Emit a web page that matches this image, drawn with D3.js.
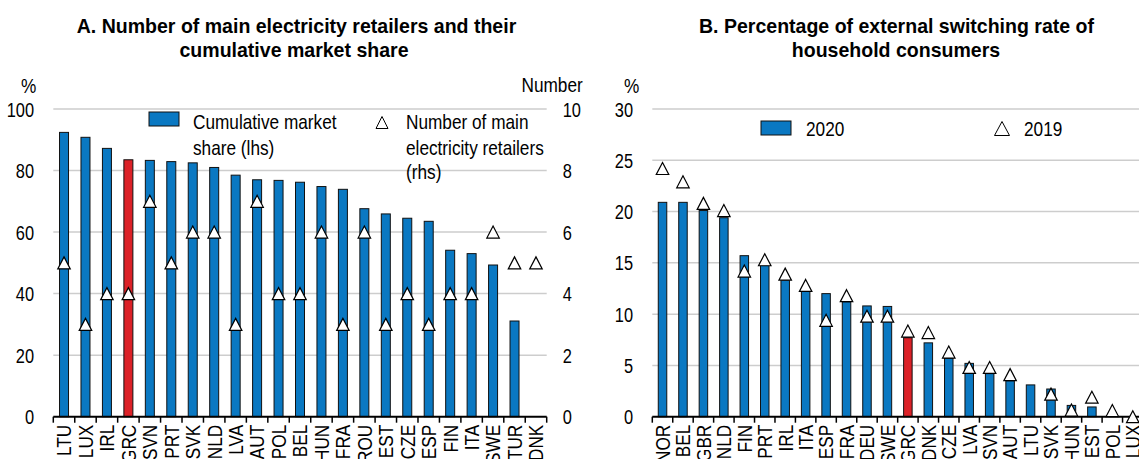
<!DOCTYPE html>
<html>
<head>
<meta charset="utf-8">
<script src="https://cdn.jsdelivr.net/npm/d3@7"></script>
<style>
  html, body { margin: 0; padding: 0; background: #fff; overflow: hidden; }
  svg text { font-family: "Liberation Sans", Arial, sans-serif; fill: #000; }
</style>
</head>
<body>
<svg id="chart" width="1139" height="459"></svg>
<script>
// ---------- Data ----------
const catsA = ["LTU","LUX","IRL","GRC","SVN","PRT","SVK","NLD","LVA","AUT","POL","BEL","HUN","FRA","ROU","EST","CZE","ESP","FIN","ITA","SWE","TUR","DNK"];
const shareA = [92.4, 90.8, 87.2, 83.5, 83.3, 82.9, 82.5, 81.0, 78.5, 77.0, 76.8, 76.2, 74.8, 73.9, 67.6, 65.9, 64.5, 63.5, 54.1, 53.0, 49.3, 31.1, null];
const retailersA = [5, 3, 4, 4, 7, 5, 6, 6, 3, 7, 4, 4, 6, 3, 6, 3, 4, 3, 4, 4, 6, 5, 5];
const ticksAL = [0, 20, 40, 60, 80, 100];
const ticksAR = [0, 2, 4, 6, 8, 10];

const catsB = ["NOR","BEL","GBR","NLD","FIN","PRT","IRL","ITA","ESP","FRA","DEU","SWE","GRC","DNK","CZE","LVA","SVN","AUT","LTU","SVK","HUN","EST","POL","LUX"];
const rate2020 = [20.9, 20.9, 20.1, 19.4, 15.7, 14.8, 13.3, 12.4, 12.0, 11.2, 10.8, 10.75, 7.7, 7.2, 5.7, 5.2, 4.2, 3.5, 3.1, 2.7, 1.1, 0.95, null, null];
const rate2019 = [24.2, 22.9, 20.8, 20.1, 14.2, 15.3, 13.9, 12.8, 9.4, 11.8, 9.8, 9.8, 8.35, 8.2, 6.3, 4.8, 4.8, 4.1, null, 2.2, 0.65, 1.9, 0.6, 0.0];
const ticksB = [0, 5, 10, 15, 20, 25, 30];

const highlight = "GRC";
const BLUE = "#0a78c2", RED = "#dc2127", GRID = "#cdcdcd";
const FS = 21, FST = 20;

const svg = d3.select("#chart");

function triPath(w, h) {
  return `M0,${-h/2}L${w/2},${h/2}L${-w/2},${h/2}Z`;
}

function panel(opts) {
  const g = svg.append("g");
  const x = d3.scaleBand().domain(opts.cats).range([opts.x0, opts.x1]).padding(0);
  const y = d3.scaleLinear().domain(opts.yDomain).range([opts.yBottom, opts.yTop]);

  g.append("g").selectAll("line").data(opts.ticks.filter(t => t !== opts.yDomain[0])).join("line")
    .attr("x1", opts.x0).attr("x2", opts.x1)
    .attr("y1", d => y(d)).attr("y2", d => y(d))
    .attr("stroke", GRID).attr("stroke-width", 1.5);

  const ax = d3.axisLeft(y).tickValues(opts.ticks).tickSize(0).tickPadding(opts.x0 - opts.leftLabelX);
  const ag = g.append("g").attr("transform", `translate(${opts.x0},0)`).call(ax);
  ag.attr("font-family", null).attr("font-size", null);
  ag.select(".domain").remove();
  ag.selectAll("text").attr("font-size", FST).attr("dy", "0.35em");

  const data = opts.cats.map((c, i) => ({c, v: opts.bars[i]}));
  g.append("g").selectAll("rect").data(data.filter(d => d.v != null)).join("rect")
    .attr("x", d => x(d.c) + x.bandwidth()/2 - opts.barW/2)
    .attr("width", opts.barW)
    .attr("y", d => y(d.v))
    .attr("height", d => y(opts.yDomain[0]) - y(d.v))
    .attr("fill", d => d.c === highlight ? RED : BLUE)
    .attr("stroke", "#111").attr("stroke-width", 1);

  const yb = opts.yBottom;
  g.append("line").attr("x1", opts.x0).attr("x2", opts.x1).attr("y1", yb).attr("y2", yb)
    .attr("stroke", "#000").attr("stroke-width", 2);
  const bounds = opts.cats.map(c => x(c)).concat([opts.x1]);
  g.append("g").selectAll("line").data(bounds).join("line")
    .attr("x1", d => d).attr("x2", d => d).attr("y1", yb).attr("y2", yb + 6)
    .attr("stroke", "#000").attr("stroke-width", 1.5);

  g.append("g").selectAll("text").data(opts.cats).join("text")
    .attr("transform", d => `translate(${x(d) + x.bandwidth()/2},${yb + 8}) rotate(-90)`)
    .attr("text-anchor", "end").attr("dy", "0.35em").attr("font-size", FS)
    .text(d => d);

  return {g, x, y};
}

// ---------- Panel A ----------
const A = panel({
  cats: catsA, x0: 53.3, x1: 546.7, yBottom: 416.7, yTop: 109,
  yDomain: [0, 100], ticks: ticksAL, leftLabelX: 34,
  bars: shareA, barW: 9
});
const yAR = d3.scaleLinear().domain([0, 10]).range([416.7, 109]);
const axR = d3.axisRight(yAR).tickValues(ticksAR).tickSize(0).tickPadding(16);
const agr = A.g.append("g").attr("transform", "translate(546.7,0)").call(axR);
agr.attr("font-family", null).attr("font-size", null);
agr.select(".domain").remove();
agr.selectAll("text").attr("font-size", FST).attr("dy", "0.35em");

A.g.append("g").selectAll("path").data(catsA.map((c, i) => ({c, v: retailersA[i]}))).join("path")
  .attr("d", triPath(12.5, 12))
  .attr("transform", d => `translate(${A.x(d.c) + A.x.bandwidth()/2},${yAR(d.v)})`)
  .attr("fill", "#fff").attr("stroke", "#000").attr("stroke-width", 1.2);

function title(txt, x, y) {
  svg.append("text").attr("class", "ttl").attr("x", x).attr("y", y).attr("text-anchor", "middle")
    .attr("font-size", 21).attr("font-weight", "bold").text(txt);
}
title("A. Number of main electricity retailers and their", 296.5, 33);
title("cumulative market share", 294, 56.5);
svg.append("text").attr("x", 21).attr("y", 93).attr("font-size", FS).text("%");
svg.append("text").attr("x", 521.5).attr("y", 92).attr("font-size", FS).text("Number");

// Legend A
svg.append("rect").attr("x", 149).attr("y", 112).attr("width", 30).attr("height", 14)
  .attr("fill", BLUE).attr("stroke", "#111").attr("stroke-width", 1);
[["Cumulative market", 121.7], ["share (lhs)", 147.3]].forEach(([t, yy]) =>
  svg.append("text").attr("x", 193).attr("y", yy).attr("dy", "0.35em").attr("font-size", FS).text(t));
svg.append("path").attr("d", triPath(12, 12)).attr("transform", "translate(382,122.5)")
  .attr("fill", "#fff").attr("stroke", "#000").attr("stroke-width", 1);
[["Number of main", 121.7], ["electricity retailers", 147.3], ["(rhs)", 171.7]].forEach(([t, yy]) =>
  svg.append("text").attr("x", 406).attr("y", yy).attr("dy", "0.35em").attr("font-size", FS).text(t));

// ---------- Panel B ----------
const B = panel({
  cats: catsB, x0: 652.3, x1: 1143, yBottom: 416.7, yTop: 109,
  yDomain: [0, 30], ticks: ticksB, leftLabelX: 633,
  bars: rate2020, barW: 8.5
});
B.g.append("g").selectAll("path").data(catsB.map((c, i) => ({c, v: rate2019[i]})).filter(d => d.v != null)).join("path")
  .attr("d", triPath(12.5, 12))
  .attr("transform", d => `translate(${B.x(d.c) + B.x.bandwidth()/2},${B.y(d.v)})`)
  .attr("fill", "#fff").attr("stroke", "#000").attr("stroke-width", 1.2);

title("B. Percentage of external switching rate of", 896.5, 33);
title("household consumers", 896, 56.5);
svg.append("text").attr("x", 624).attr("y", 93).attr("font-size", FS).text("%");

// Legend B
svg.append("rect").attr("x", 761).attr("y", 121).attr("width", 30).attr("height", 14)
  .attr("fill", BLUE).attr("stroke", "#111").attr("stroke-width", 1);
svg.append("text").attr("x", 806).attr("y", 128.5).attr("dy", "0.35em").attr("font-size", FS).text("2020");
svg.append("path").attr("d", triPath(15, 14)).attr("transform", "translate(1002,128.5)")
  .attr("fill", "#fff").attr("stroke", "#000").attr("stroke-width", 1);
svg.append("text").attr("x", 1024).attr("y", 128.5).attr("dy", "0.35em").attr("font-size", FS).text("2019");

// ---------- Condense text to mimic a narrow typeface ----------
svg.selectAll("text").each(function () {
  const f = this.classList.contains("ttl") ? 0.93 : 0.82;
  const w = this.getComputedTextLength();
  if (w > 0) {
    this.setAttribute("textLength", (w * f).toFixed(2));
    this.setAttribute("lengthAdjust", "spacingAndGlyphs");
  }
});
</script>
</body>
</html>
